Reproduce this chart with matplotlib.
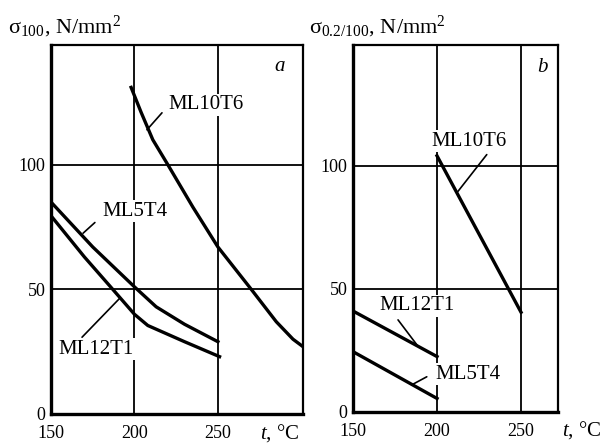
import numpy as np
import matplotlib.pyplot as plt

plt.rcParams['font.family'] = ['Liberation Serif', 'DejaVu Serif']
plt.rcParams['mathtext.fontset'] = 'custom'
plt.rcParams['mathtext.rm'] = 'Liberation Serif'
plt.rcParams['mathtext.it'] = 'Liberation Serif:italic'

# Panel a : sigma_100 (N/mm2) vs t (degC)
a_ml10t6_t = [198, 204, 211, 220, 235, 250, 270, 285, 295, 301]
a_ml10t6_s = [131, 121, 110, 100, 83, 67, 50, 37, 30, 27]
a_ml5t4_t = [150, 175, 200, 213, 230, 250]
a_ml5t4_s = [85, 67, 51, 43, 36, 29]
a_ml12t1_t = [150, 170, 187, 200, 208, 230, 251]
a_ml12t1_s = [79.5, 63, 50, 40, 35.5, 29, 23]

# Panel b : sigma_0.2/100 (N/mm2) vs t (degC)
b_ml10t6_t = [200, 250]
b_ml10t6_s = [104, 40.5]
b_ml12t1_t = [150, 200]
b_ml12t1_s = [41, 22.5]
b_ml5t4_t = [150, 200]
b_ml5t4_s = [24.5, 5.5]

xticks = [150, 200, 250]
yticks = [0, 50, 100]
grid_x = [200, 250]
grid_y = [50, 100]

fig = plt.figure(figsize=(6.06, 4.47), dpi=100)
ax_a = fig.add_axes([51/606, 33/447, 252/606, 369/447])
ax_b = fig.add_axes([353/606, 35/447, 205/606, 367/447])

lw_curve = 2.4
fs_lab = 15


def base(ax, xmax, ymax):
    ax.set_xlim(150, xmax)
    ax.set_ylim(0, ymax)
    ax.set_xticks(xticks)
    ax.set_yticks(yticks)
    ax.tick_params(length=0, labelsize=13, pad=4)
    ax.tick_params(axis='x', pad=8)
    for gx in grid_x:
        ax.axvline(gx, color='black', lw=1.3, zorder=1)
    for gy in grid_y:
        ax.axhline(gy, color='black', lw=1.3, zorder=1)
    for sp in ax.spines.values():
        sp.set_linewidth(1.6)
    ax.spines['left'].set_linewidth(2.4)
    ax.spines['bottom'].set_linewidth(2.4)


def label(ax, txt, xy, tip, end):
    ax.text(xy[0], xy[1], txt, fontsize=fs_lab, ha='center', va='center', zorder=4,
            bbox=dict(facecolor='white', edgecolor='none', pad=1))
    ax.annotate('', xy=tip, xytext=end,
                arrowprops=dict(arrowstyle='-', color='black', lw=1.2,
                                shrinkA=0, shrinkB=0), zorder=5)


# panel a
base(ax_a, 301, 148)
ax_a.plot(a_ml10t6_t, a_ml10t6_s, color='black', lw=lw_curve, zorder=5)
ax_a.plot(a_ml5t4_t, a_ml5t4_s, color='black', lw=lw_curve, zorder=5)
ax_a.plot(a_ml12t1_t, a_ml12t1_s, color='black', lw=lw_curve, zorder=5)
label(ax_a, 'ML10T6', (243, 124), (207.5, 114), (216.5, 120.8))
label(ax_a, 'ML5T4', (200, 81.4), (169.2, 72.5), (176.3, 76.8))
label(ax_a, 'ML12T1', (177, 26), (191.3, 46.5), (168.6, 30.8))
ax_a.text(287, 139.5, 'a', fontsize=15, style='italic', ha='center', va='center')
ax_a.text(287, -7.5, '$\\mathit{t}$, °C', fontsize=15, ha='center', va='center',
          clip_on=False)

# panel b
base(ax_b, 272, 149)
ax_b.plot(b_ml10t6_t, b_ml10t6_s, color='black', lw=lw_curve, zorder=5)
ax_b.plot(b_ml12t1_t, b_ml12t1_s, color='black', lw=lw_curve, zorder=5)
ax_b.plot(b_ml5t4_t, b_ml5t4_s, color='black', lw=lw_curve, zorder=5)
label(ax_b, 'ML10T6', (219, 110), (212.5, 89.6), (229.6, 104.5))
label(ax_b, 'ML12T1', (187.8, 43.1), (188.1, 27.2), (176.8, 37.4))
label(ax_b, 'ML5T4', (218.2, 15.4), (184.9, 11), (193.9, 14.3))
ax_b.text(263, 140, 'b', fontsize=15, style='italic', ha='center', va='center')
ax_b.text(286, -7.5, '$\\mathit{t}$, °C', fontsize=15, ha='center', va='center',
          clip_on=False)

fig.text(8/606, (447-33)/447, 'σ$_{100}$, N/mm$^2$', fontsize=16, va='baseline')
fig.text(309/606, (447-33)/447, 'σ$_{0.2/100}$, N/mm$^2$', fontsize=16, va='baseline')

fig.savefig('out.png', dpi=100)
